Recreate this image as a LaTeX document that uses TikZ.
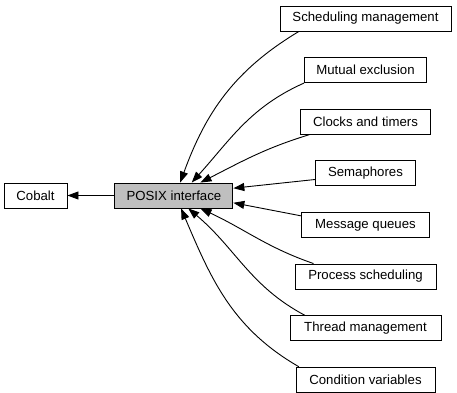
\documentclass[tikz,border=0pt]{standalone}
\usepackage{fontspec}
\setmainfont{Liberation Sans}
\usetikzlibrary{arrows.meta,positioning}

\begin{document}
\begin{tikzpicture}[
    x=1pt, y=1pt,
    node distance=25.7pt and 47pt,
    box/.style={rectangle, draw, line width=0.9pt, minimum height=25pt, inner sep=0pt, font=\fontsize{13.2}{15}\selectfont},
    arrow/.style={-{Triangle[length=11pt, width=8pt]}, line width=0.9pt}
]
\useasboundingbox (0,0) rectangle (457,392);

% Parent group and current group
\node[box, minimum width=63pt] (cobalt) at (35.5,196.5) {Cobalt};
\node[box, fill=black!25, minimum width=118pt, right=of cobalt] (posix) {POSIX interface};
\draw[arrow] (posix) -- (cobalt);

% Subgroups (right column)
\node[box, minimum width=171pt] (sched) at (365.5,373.5) {Scheduling management};
\node[box, minimum width=122pt, below=of sched] (mutex) {Mutual exclusion};
\node[box, minimum width=130pt, below=of mutex] (clocks) {Clocks and timers};
\node[box, minimum width=100pt, below=of clocks] (sem) {Semaphores};
\node[box, minimum width=128pt, below=of sem] (msgq) {Message queues};
\node[box, minimum width=141pt, below=of msgq] (procsched) {Process scheduling};
\node[box, minimum width=151pt, below=of procsched] (thread) {Thread management};
\node[box, minimum width=139pt, below=of thread] (condvar) {Condition variables};

\draw[arrow] (sched.191) to[out=211, in=70] (posix.64);
\draw[arrow] (mutex.south west) to[out=204, in=48] (posix.36);
\draw[arrow] (clocks.193) to[out=197, in=27] (posix.26);
\draw[arrow] (sem.187) -- (posix.7);
\draw[arrow] (msgq.172) -- (posix.353);
\draw[arrow] (procsched.166) to[out=161, in=335] (posix.334);
\draw[arrow] (thread.168) to[out=152, in=320] (posix.318);
\draw[arrow] (condvar.169) to[out=150, in=293] (posix.299);
\end{tikzpicture}
\end{document}
